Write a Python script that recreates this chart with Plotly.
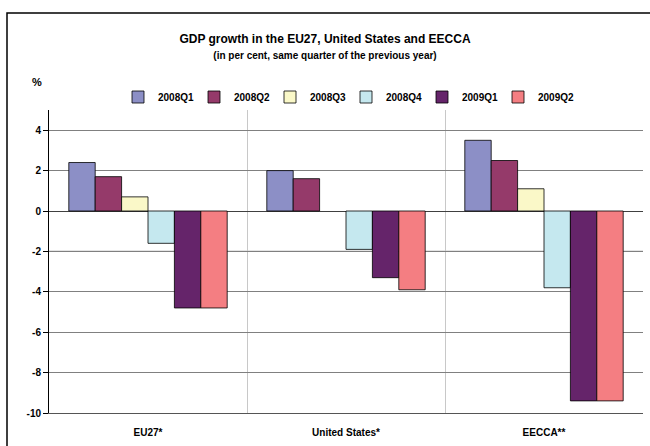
import plotly.graph_objects as go

categories = ["EU27*", "United States*", "EECCA**"]
quarters = ["2008Q1", "2008Q2", "2008Q3", "2008Q4", "2009Q1", "2009Q2"]
values = {
    "2008Q1": [2.4, 2.0, 3.5],
    "2008Q2": [1.7, 1.6, 2.5],
    "2008Q3": [0.7, None, 1.1],
    "2008Q4": [-1.6, -1.9, -3.8],
    "2009Q1": [-4.8, -3.3, -9.4],
    "2009Q2": [-4.8, -3.9, -9.4],
}
colors = ["#8C8FC6", "#953A6A", "#FAF8C8", "#C5E8EF", "#65246A", "#F47E82"]
y_ticks = [-10, -8, -6, -4, -2, 0, 2, 4]
y_ticktext = ["-10", "-8", "-6", "-4", "-2", "0", "2", "4"]

FONT = "Arial, Liberation Sans, sans-serif"

fig = go.Figure()
for q, c in zip(quarters, colors):
    fig.add_trace(go.Bar(
        name=q, x=categories, y=values[q],
        marker=dict(color=c, line=dict(color="black", width=0.8)),
    ))

fig.update_layout(
    width=650, height=446,
    margin=dict(l=49, r=7, t=110, b=33, autoexpand=False),
    paper_bgcolor="white", plot_bgcolor="white",
    barmode="group", bargap=0.2, bargroupgap=0,
    font=dict(family=FONT, size=10, color="black"),
    title=dict(
        text="<b>GDP growth in the EU27, United States and EECCA</b><br>"
             "<span style='font-size:10px'><b>(in per cent, same quarter of the previous year)</b></span>",
        x=0.5, xanchor="center", xref="container",
        y=1 - 43 / 446, yanchor="top", yref="container",
        font=dict(family=FONT, size=12, color="black"),
    ),
    legend=dict(
        orientation="h", x=(346 - 49) / 594, xanchor="center", y=1 + (110 - 97) / 303, yanchor="middle",
        font=dict(family=FONT, size=10, color="black", weight="bold"),
        entrywidth=31, entrywidthmode="pixels", itemwidth=30,
        traceorder="normal", bgcolor="rgba(0,0,0,0)",
    ),
    xaxis=dict(
        tickson="boundaries", showgrid=True, gridcolor="#C8C8C8", gridwidth=1,
        ticks="", showline=True, linecolor="#555555", linewidth=1,
        tickfont=dict(family=FONT, size=10, color="black", weight="bold"),
        ticklabelstandoff=10, automargin=False,
        range=[-0.5, 2.5],
    ),
    yaxis=dict(
        range=[-10, 5], tickvals=y_ticks, ticktext=y_ticktext,
        showgrid=True, gridcolor="#808080", gridwidth=1,
        zeroline=True, zerolinecolor="#404040", zerolinewidth=1,
        showline=True, linecolor="black", linewidth=1,
        ticks="outside", ticklen=5, tickcolor="black",
        tickfont=dict(family=FONT, size=10, color="black", weight="bold"),
        automargin=False,
    ),
    annotations=[
        dict(text="<b>%</b>", xref="paper", yref="paper",
             x=(37 - 49) / 594, y=1 + (110 - 82) / 303,
             xanchor="center", yanchor="middle", showarrow=False,
             font=dict(family=FONT, size=11, color="black")),
    ],
    shapes=[
        dict(type="line", xref="paper", yref="y", x0=0, x1=1, y0=-2, y1=-2,
             line=dict(color="black", width=1), layer="below"),
        dict(type="rect", xref="paper", yref="paper",
             x0=(7 - 49) / 594, x1=(654 - 49) / 594,
             y0=(413 - 450) / 303, y1=1 + (110 - 13) / 303,
             line=dict(color="black", width=1.5), fillcolor="rgba(0,0,0,0)"),
    ],
)

fig.write_html("out.html", config={"displayModeBar": False},
               post_script="document.body.style.margin='0';")
